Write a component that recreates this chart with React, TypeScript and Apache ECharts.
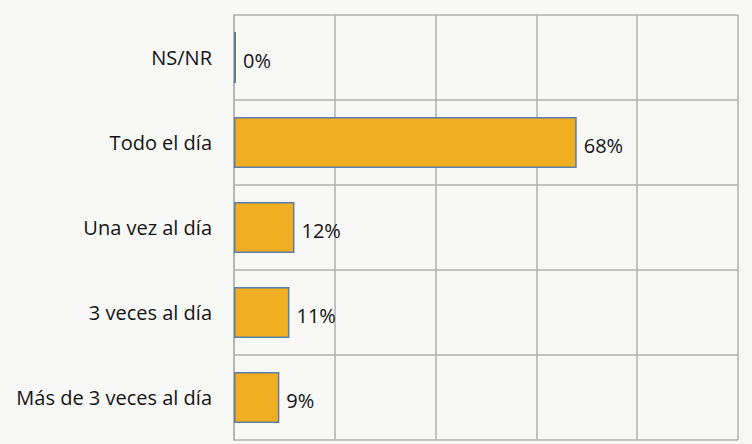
import React, { useEffect, useRef } from "react";
import * as echarts from "echarts";

const categories = ["NS/NR", "Todo el día", "Una vez al día", "3 veces al día", "Más de 3 veces al día"];
const values = [0, 68, 12, 11, 9];
const xTicks = [0, 20, 40, 60, 80, 100];

export default function App() {
  const ref = useRef<HTMLDivElement>(null);
  useEffect(() => {
    if (!ref.current) return;
    const chart = echarts.init(ref.current, undefined, { renderer: "svg" });
    chart.setOption({
      animation: false,
      backgroundColor: "#f8f8f7",
      textStyle: { fontFamily: "Open Sans" },
      grid: { left: 234, right: 14, top: 15, bottom: 4, containLabel: false },
      xAxis: {
        type: "value",
        min: xTicks[0],
        max: xTicks[xTicks.length - 1],
        interval: 20,
        axisLabel: { show: false },
        axisTick: { show: false },
        axisLine: { show: false },
        splitLine: { show: true, lineStyle: { color: "#b0b0b0", width: 1.5 } },
      },
      yAxis: {
        type: "category",
        data: categories,
        inverse: true,
        axisLine: { show: true, lineStyle: { color: "#b0b0b0", width: 1.5 } },
        axisTick: { show: false },
        splitLine: { show: true, lineStyle: { color: "#b0b0b0", width: 1.5 } },
        axisLabel: { color: "#141414", fontSize: 20, margin: 22, fontFamily: "Open Sans", fontWeight: 500 },
      },
      series: [
        {
          type: "bar",
          data: values,
          barWidth: "60%",
          barMinHeight: 2,
          itemStyle: { color: "#f0ae22", borderColor: "#5b7fa6", borderWidth: 1.5 },
          label: {
            show: true,
            position: "right",
            distance: 7,
            offset: [0, 3],
            formatter: (p: any) => `${p.value}%`,
            color: "#141414",
            fontSize: 20,
            fontFamily: "Open Sans",
            fontWeight: 500,
          },
        },
      ],
    });
    return () => chart.dispose();
  }, []);
  return <div ref={ref} style={{ position: "fixed", left: 0, top: 0, width: 752, height: 444 }} />;
}
